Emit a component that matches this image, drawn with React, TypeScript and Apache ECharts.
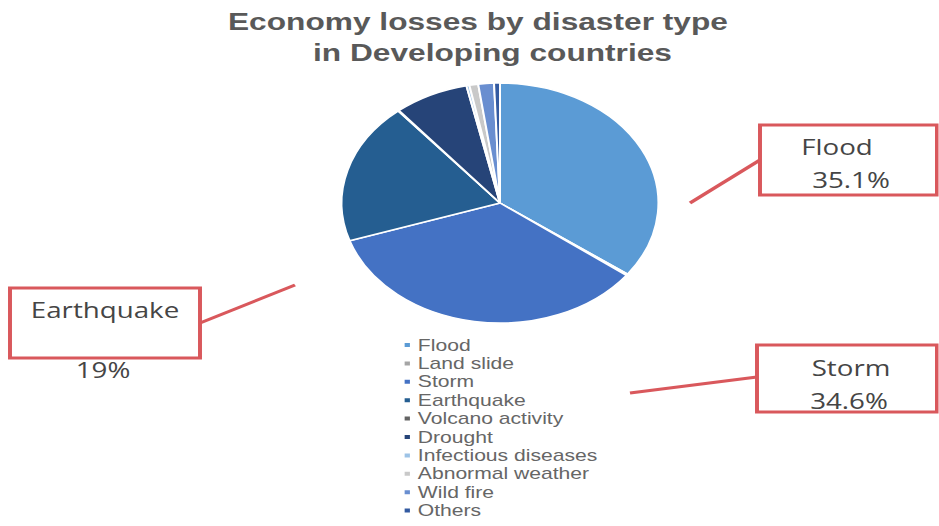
import React, { useEffect, useRef } from "react";
import * as echarts from "echarts";

const categories = [
  "Flood",
  "Land slide",
  "Storm",
  "Earthquake",
  "Volcano activity",
  "Drought",
  "Infectious diseases",
  "Abnormal weather",
  "Wild fire",
  "Others",
];
const shares = [35.1, 0.2, 34.6, 19.0, 0.1, 7.6, 0.3, 0.9, 1.6, 0.6];
const colors = [
  "#5B9BD5",
  "#A5A5A5",
  "#4472C4",
  "#255E91",
  "#636363",
  "#264478",
  "#9DC3E6",
  "#C9C9C9",
  "#698ED0",
  "#335AA1",
];
const titleLines = ["Economy losses by disaster type", "in Developing countries"];

// horizontal stretch of the whole picture
const SX = 1.32;
const W = 939;
const H = 560;
const lx = (x: number) => x / SX;

const RED = "#D9585C";
const TXT = "#454545";
const FONT = '"Open Sans", "DejaVu Sans", sans-serif';

function callout(
  box: [number, number, number, number],
  line: [number, number, number, number],
  texts: { t: string; x: number; y: number }[]
) {
  const [x1, y1, x2, y2] = box;
  return [
    {
      type: "line",
      shape: { x1: lx(line[0]), y1: line[1], x2: lx(line[2]), y2: line[3] },
      style: { stroke: RED, lineWidth: 3 },
      z: 10,
    },
    {
      type: "rect",
      shape: { x: lx(x1), y: y1, width: lx(x2) - lx(x1), height: y2 - y1 },
      style: { fill: "#ffffff", stroke: RED, lineWidth: 3 },
      z: 11,
    },
    ...texts.map((tx) => ({
      type: "text",
      x: lx(tx.x),
      y: tx.y,
      z: 12,
      style: {
        text: tx.t,
        fill: TXT,
        fontSize: 21,
        fontFamily: FONT,
        textAlign: "center",
        textVerticalAlign: "middle",
      },
    })),
  ];
}

export default function App() {
  const ref = useRef<HTMLDivElement>(null);
  useEffect(() => {
    if (!ref.current) return;
    const chart = echarts.init(ref.current, null, { renderer: "svg" });
    const pct = (i: number) => `${shares[i]}%`;
    const titleStyle = {
      fontFamily: "Arial, 'Liberation Sans', sans-serif",
      fontWeight: "bold",
      fontSize: 24,
      color: "#595959",
    };
    const option: any = {
      animation: false,
      backgroundColor: "#ffffff",
      title: [
        { text: titleLines[0], left: lx(228), top: 10, padding: 0, textStyle: titleStyle },
        { text: titleLines[1], left: lx(313), top: 41, padding: 0, textStyle: titleStyle },
      ],
      legend: {
        orient: "vertical",
        left: lx(402),
        top: 337,
        height: 210,
        padding: 0,
        itemWidth: 6,
        itemHeight: 6,
        itemGap: 2.4,
        icon: "rect",
        selectedMode: false,
        data: categories,
        textStyle: {
          fontFamily: "Arial, 'Liberation Sans', sans-serif",
          fontSize: 16,
          lineHeight: 16,
          color: "#666666",
          padding: [0, 0, 0, 0],
        },
      },
      series: [
        {
          type: "pie",
          center: [lx(500), 203],
          radius: 120,
          startAngle: 90,
          clockwise: true,
          avoidLabelOverlap: false,
          silent: true,
          label: { show: false },
          labelLine: { show: false },
          itemStyle: { borderColor: "#ffffff", borderWidth: 1.5 },
          data: categories.map((c, i) => ({
            name: c,
            value: shares[i],
            itemStyle: { color: colors[i] },
          })),
        },
      ],
      graphic: [
        ...callout([760, 125, 937, 195], [690, 203, 760, 160], [
          { t: categories[0], x: 837, y: 147 },
          { t: pct(0), x: 851, y: 180 },
        ]),
        ...callout([757, 345, 937, 412], [630, 393, 757, 377], [
          { t: categories[2], x: 851, y: 368 },
          { t: pct(2), x: 849, y: 401 },
        ]),
        ...callout([10, 288, 200, 358], [200, 323, 295, 285], [
          { t: categories[3], x: 105, y: 310 },
        ]),
        {
          type: "text",
          x: lx(103),
          y: 370,
          z: 12,
          style: {
            text: `${shares[3]}%`,
            fill: TXT,
            fontSize: 21,
            fontFamily: FONT,
            textAlign: "center",
            textVerticalAlign: "middle",
          },
        },
      ],
    };
    chart.setOption(option);
    return () => chart.dispose();
  }, []);
  return (
    <div
      ref={ref}
      style={{
        position: "fixed",
        left: 0,
        top: 0,
        width: W / SX,
        height: H,
        transform: `scaleX(${SX})`,
        transformOrigin: "0 0",
        background: "#ffffff",
      }}
    />
  );
}
